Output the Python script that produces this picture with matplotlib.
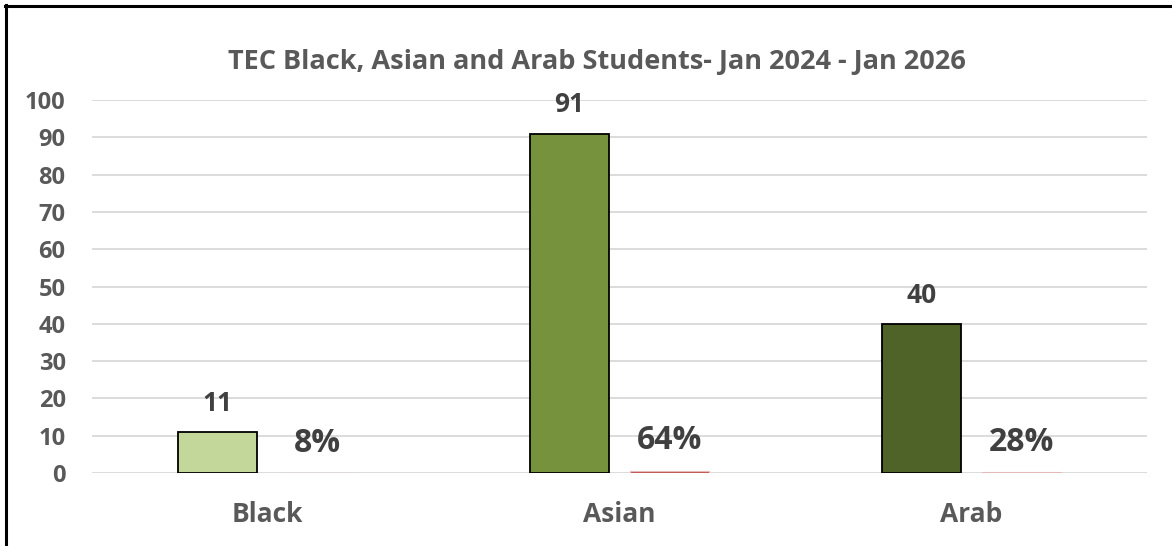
import matplotlib.pyplot as plt
from matplotlib.lines import Line2D
import numpy as np

plt.rcParams['font.family'] = ['Open Sans', 'DejaVu Sans']

# data
categories = ['Black', 'Asian', 'Arab']
counts = [11, 91, 40]
shares = [0.08, 0.64, 0.28]
share_labels = ['8%', '64%', '28%']
bar_colors = ['#C4D79B', '#76923C', '#4F6228']

grey = '#595959'

fig = plt.figure(figsize=(11.72, 5.46), dpi=100)
ax = fig.add_axes([92 / 1172, 1 - 473 / 546, 1055 / 1172, 373 / 546])

x = np.arange(len(categories))
off = 0.142
w = 0.225

bars1 = ax.bar(x - off, counts, w, color=bar_colors, edgecolor='black', linewidth=1.3, zorder=3)
bars2 = ax.bar(x + off, shares, w, color='#C0504D', edgecolor='#E6B9B8', linewidth=0.8, zorder=3)

for b, v in zip(bars1, counts):
    ax.annotate(str(v), (b.get_x() + b.get_width() / 2, v), xytext=(0, 11),
                textcoords='offset points', ha='center', va='bottom',
                fontsize=19, fontweight='bold', color='#404040')
for b, lab in zip(bars2, share_labels):
    ax.annotate(lab, (b.get_x() + b.get_width() / 2, b.get_height()), xytext=(0, 9.5),
                textcoords='offset points', ha='center', va='bottom',
                fontsize=23, fontweight='bold', color='#404040')

ax.set_xlim(-0.5, 2.5)
ax.set_ylim(0, 100)
ax.set_yticks(range(0, 101, 10))
ax.set_xticks(x)
ax.set_xticklabels(categories)
ax.tick_params(axis='y', length=0, pad=19, labelsize=17, labelcolor=grey)
ax.tick_params(axis='x', length=0, pad=20, labelsize=19, labelcolor=grey)
for t in ax.get_xticklabels() + ax.get_yticklabels():
    t.set_fontweight('bold')
ax.grid(axis='y', color='#D9D9D9', linewidth=1.3, zorder=0)
for s in ax.spines.values():
    s.set_visible(False)

fig.text(597 / 1172, 1 - 62 / 546, 'TEC Black, Asian and Arab Students- Jan 2024 - Jan 2026',
         ha='center', va='center', fontsize=19.5, fontweight='bold', color=grey)

# outer frame (top and left edge visible)
fig.add_artist(Line2D([5 / 1172, 1], [1 - 6 / 546] * 2, color='black', linewidth=2.2, transform=fig.transFigure))
fig.add_artist(Line2D([6 / 1172] * 2, [0, 1 - 5 / 546], color='black', linewidth=2.2, transform=fig.transFigure))

fig.savefig('out.png', dpi=100)
